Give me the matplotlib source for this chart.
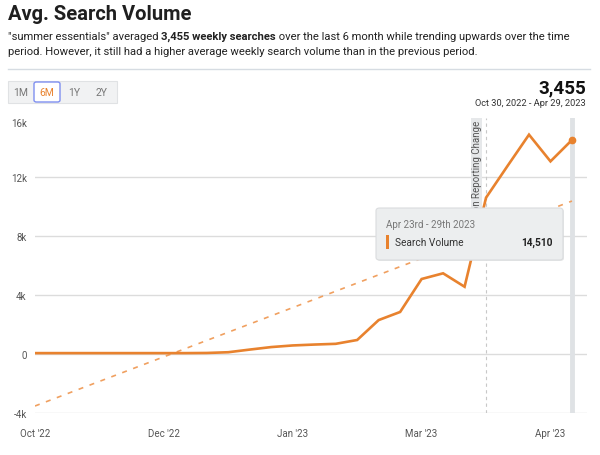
import matplotlib
matplotlib.use('Agg')
import matplotlib.pyplot as plt
from matplotlib.patches import FancyBboxPatch, Rectangle

plt.rcParams['font.family'] = ['Roboto', 'DejaVu Sans']

# weekly search volume, Oct 30 2022 .. Apr 23 2023
weeks = list(range(26))
volume = [60, 60, 60, 60, 60, 60, 60, 60, 70, 120, 300, 470, 580, 640,
          690, 950, 2300, 2850, 5085, 5470, 4560, 10600, 12750, 14870,
          13060, 14510]
trend_start = -3525
trend_end = 10370
tick_weeks = [0, 6, 12, 18, 24]
tick_labels = ["Oct '22", "Dec '22", "Jan '23", "Mar '23", "Apr '23"]
y_ticks = [-4000, 0, 4000, 8000, 12000, 16000]
y_labels = ['-4k', '0', '4k', '8k', '12k', '16k']
change_week = 21
ranges = ['1M', '6M', '1Y', '2Y']

ORANGE = '#E8822E'
W, H = 600, 456

fig = plt.figure(figsize=(6, 4.56), dpi=100)


def px(x, y):
    return x / W, 1 - y / H


# header
fig.text(*px(8, 15), 'Avg. Search Volume', fontsize=14.5, weight='bold',
         color='#1f1f1f', va='center')

renderer = fig.canvas.get_renderer()


def rich_line(x, y, parts, size=8.1):
    for txt, bold in parts:
        t = fig.text(*px(x, y), txt, fontsize=size, va='center',
                     weight='bold' if bold else 'normal', color='#222')
        x += t.get_window_extent(renderer).width


rich_line(8, 37, [('"summer essentials" averaged ', False),
                  ('3,455 weekly searches', True),
                  (' over the last 6 month while trending upwards over the time', False)])
rich_line(8, 52, [('period. However, it still had a higher average weekly search '
                   'volume than in the previous period.', False)])
fig.add_artist(plt.Line2D([8 / W, 590 / W], [1 - 70 / H] * 2,
                          color='#d6dce2', lw=1))

# range buttons
fig.add_artist(Rectangle(px(8, 104), 109 / W, 22 / H, facecolor='#f1f2f3',
                         edgecolor='#e0e2e4', lw=0.8))
btn_x = [8, 33, 61, 87, 117]
for i, name in enumerate(ranges):
    x0, x1 = btn_x[i], btn_x[i + 1]
    active = name == '6M'
    if active:
        fig.add_artist(FancyBboxPatch(px(x0 + 1, 103), (x1 - x0 - 2) / W,
                                      20 / H, boxstyle='round,pad=0,rounding_size=0.004',
                                      facecolor='white', edgecolor='#7f8ff0', lw=1))
    fig.text(*px((x0 + x1) / 2, 93), name, fontsize=7.5, ha='center',
             va='center', color=ORANGE if active else '#777')

fig.text(*px(586, 88), '3,455', fontsize=13.5, weight='bold', ha='right',
         va='center', color='#111')
fig.text(*px(586, 104), 'Oct 30, 2022 - Apr 29, 2023', fontsize=6.7,
         ha='right', va='center', color='#333')

# chart
ax = fig.add_axes([35 / W, 1 - 414 / H, 552 / W, 295 / H])
ax.set_xlim(0, 25.7)
ax.set_ylim(-4000, 16000)
for s in ax.spines.values():
    s.set_visible(False)
for v in y_ticks[:-1]:
    ax.axhline(v, color='#dcdcdc', lw=1, zorder=0)
ax.set_yticks(y_ticks)
ax.set_yticklabels(y_labels)
ax.set_xticks(tick_weeks)
ax.set_xticklabels(tick_labels)
ax.tick_params(length=0, labelsize=7, colors='#555', pad=6)
ax.tick_params(axis='x', pad=11)
ax.get_yticklabels()[-1].set_va('top')

# hover band and reporting-change marker
ax.axvline(weeks[-1], color='#dfe2e5', lw=3.5, zorder=1)
ax.axvline(change_week, color='#c8c8c8', lw=0.8, ls=(0, (3, 3)), zorder=1)
ax.add_patch(Rectangle((change_week - 0.72, 9300), 0.55, 7000,
                       facecolor='#e6e8ea', edgecolor='none', zorder=2))
ax.text(change_week - 0.44, 15850, 'Amazon Reporting Change', rotation=90,
        fontsize=7, color='#555', ha='center', va='top', zorder=3,
        clip_on=True)

ax.plot([weeks[0], weeks[-1]], [trend_start, trend_end], color='#F0A060',
        lw=1.2, ls=(0, (3, 4)), zorder=3)
ax.plot(weeks, volume, color=ORANGE, lw=1.9, zorder=4,
        solid_joinstyle='miter')
ax.plot(weeks[-1], volume[-1], 'o', color=ORANGE, ms=4.5, zorder=5)

# tooltip
fig.add_artist(FancyBboxPatch(px(377, 262), 187 / W, 52 / H,
                              boxstyle='round,pad=0,rounding_size=0.006',
                              facecolor='#d0d2d4', edgecolor='none',
                              alpha=0.5, zorder=6))
fig.add_artist(FancyBboxPatch(px(376, 261), 187 / W, 52 / H,
                              boxstyle='round,pad=0,rounding_size=0.006',
                              facecolor='#eceeef', edgecolor='#dadcde',
                              lw=0.8, zorder=7))
fig.text(*px(386, 225), 'Apr 23rd - 29th 2023', fontsize=7,
         color='#777', va='center', zorder=8)
fig.add_artist(Rectangle(px(386, 250), 3 / W, 14 / H, facecolor=ORANGE,
                         edgecolor='none', zorder=8))
fig.text(*px(395, 243), 'Search Volume', fontsize=7.3, color='#333',
         va='center', zorder=8)
fig.text(*px(553, 243), f'{volume[-1]:,}', fontsize=7.3, weight='bold',
         color='#222', va='center', ha='right', zorder=8)

fig.savefig('out.png', dpi=100)
